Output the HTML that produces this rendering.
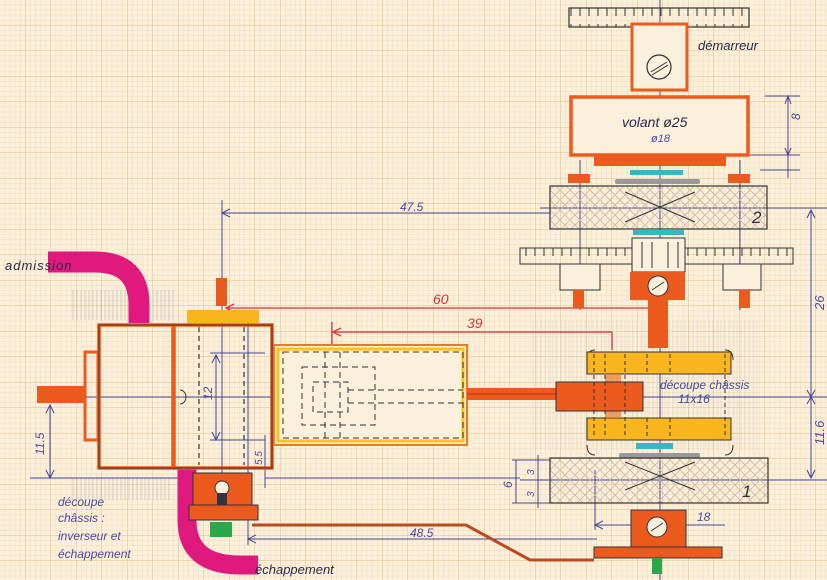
<!DOCTYPE html>
<html><head><meta charset="utf-8"><style>
html,body{margin:0;padding:0;background:#fbf0dc;}
svg{display:block}
text{font-family:"Liberation Sans",sans-serif;font-style:italic}
</style></head><body>
<svg width="827" height="580" viewBox="0 0 827 580" xmlns="http://www.w3.org/2000/svg">
<defs>
<pattern id="minor" width="5.1" height="5.1" patternUnits="userSpaceOnUse"><path d="M5.1 0V5.1H0" fill="none" stroke="#f0d3a6" stroke-width="0.7"/></pattern>
<pattern id="major" width="25.5" height="25.5" patternUnits="userSpaceOnUse"><path d="M25.5 0V25.5H0" fill="none" stroke="#e4bd82" stroke-width="1"/></pattern>
<pattern id="hatch" width="10" height="10" patternUnits="userSpaceOnUse"><path d="M0 0L10 10M10 0L0 10" stroke="#c8b8a8" stroke-width="0.8"/></pattern>
<pattern id="ticks" width="9" height="20" patternUnits="userSpaceOnUse"><path d="M4 4V16" stroke="#333" stroke-width="1"/></pattern>
<pattern id="pencil" width="4" height="6" patternUnits="userSpaceOnUse"><path d="M1 0V6" stroke="#bbb" stroke-width="0.8"/></pattern>
</defs>
<rect width="827" height="580" fill="#fbf0dc"/>
<rect width="827" height="580" fill="url(#minor)"/>
<rect width="827" height="580" fill="url(#major)"/>

<!-- pencil areas -->
<rect x="70" y="290" width="105" height="30" fill="url(#pencil)" opacity="0.8"/>
<rect x="70" y="478" width="100" height="22" fill="url(#pencil)" opacity="0.8"/>
<rect x="530" y="320" width="230" height="130" fill="url(#pencil)" opacity="0.35"/>

<!-- center lines -->
<g stroke="#45459a" stroke-width="1" fill="none">
<line x1="660" y1="0" x2="660" y2="580"/>
<line x1="222" y1="200" x2="222" y2="480"/>
<line x1="248" y1="320" x2="248" y2="545"/>
<line x1="580" y1="160" x2="580" y2="310"/>
<line x1="740" y1="160" x2="740" y2="310"/>
<line x1="595" y1="470" x2="595" y2="530"/>
<line x1="80" y1="397" x2="827" y2="397"/>
<line x1="540" y1="208" x2="827" y2="208"/>
<line x1="520" y1="480" x2="827" y2="480"/>
<line x1="30" y1="478" x2="180" y2="478"/>
<line x1="265" y1="478" x2="520" y2="478"/>
<!-- 47.5 -->
<line x1="222" y1="213" x2="550" y2="213"/>
<path d="M230 209L222 213L230 217"/>
<!-- 48.5 -->
<line x1="248" y1="539" x2="597" y2="539"/>
<path d="M256 535L248 539L256 543"/>
<!-- right dims -->
<line x1="811" y1="210" x2="811" y2="478"/>
<path d="M807 218L811 210L815 218M807 390L811 397L815 390M807 404L811 397L815 404M807 470L811 478L815 470"/>
<line x1="765" y1="96" x2="800" y2="96"/><line x1="750" y1="155" x2="800" y2="155"/><line x1="760" y1="170" x2="800" y2="170"/>
<line x1="788" y1="96" x2="788" y2="178"/>
<path d="M785 104L788 96L791 104M785 148L788 155L791 148"/>
<!-- 11.5 -->
<line x1="50" y1="405" x2="50" y2="478"/>
<path d="M46 413L50 405L54 413M46 470L50 478L54 470"/>
<!-- 12 & 5.5 -->
<line x1="216" y1="355" x2="216" y2="440"/>
<path d="M212 363L216 355L220 363M212 432L216 440L220 432"/>
<line x1="210" y1="353" x2="265" y2="353"/><line x1="210" y1="440" x2="265" y2="440"/>
<line x1="265" y1="435" x2="265" y2="488"/>
<!-- 6 3 3 -->
<line x1="512" y1="460" x2="550" y2="460"/><line x1="512" y1="503" x2="550" y2="503"/>
<line x1="516" y1="460" x2="516" y2="503"/><line x1="538" y1="455" x2="538" y2="508"/>
<!-- 18 -->
<line x1="595" y1="525" x2="725" y2="525"/>
<path d="M603 521L595 525L603 529"/>
<!-- ø18 -->
<line x1="595" y1="145" x2="727" y2="145"/>
<path d="M603 141L595 145L603 149M719 141L727 145L719 149"/>
</g>

<!-- red dims -->
<g stroke="#e0303a" stroke-width="1.3" fill="none">
<line x1="226" y1="308" x2="655" y2="308"/>
<path d="M234 304L226 308L234 312"/>
<line x1="333" y1="332" x2="612" y2="332"/>
<line x1="332" y1="322" x2="332" y2="420"/>
<path d="M341 328L333 332L341 336"/>
<line x1="612" y1="332" x2="612" y2="350"/>
</g>

<!-- magenta pipes -->
<path d="M48 262L95 262Q139 262 139 305L139 323" fill="none" stroke="#e0197e" stroke-width="21"/>
<path d="M187 469L187 520Q187 565 240 565L258 565" fill="none" stroke="#e0197e" stroke-width="19"/>

<!-- main block -->
<rect x="37" y="386" width="47" height="17" fill="#ec5a1e"/>
<rect x="85" y="352" width="13" height="88" fill="none" stroke="#ec5a1e" stroke-width="3"/>
<rect x="99" y="325" width="74" height="143" fill="none" stroke="#ec5a1e" stroke-width="3.5"/>
<rect x="174" y="325" width="98" height="143" fill="none" stroke="#ec5a1e" stroke-width="3.5"/>
<rect x="99" y="325" width="173" height="143" fill="none" stroke="#333" stroke-width="1"/>
<rect x="187" y="310" width="72" height="13" fill="#f8b51e"/>
<rect x="216" y="278" width="11" height="28" fill="#e85a1e"/>
<g stroke="#333" stroke-width="1.2" stroke-dasharray="5 4"><line x1="199" y1="327" x2="199" y2="465"/><line x1="244" y1="327" x2="244" y2="465"/></g>
<path d="M180 390a6 7 0 1 1 0 14" fill="none" stroke="#333"/>

<!-- cylinder -->
<rect x="274" y="345" width="193" height="100" fill="#fbf0dc" stroke="#ec7a1e" stroke-width="2"/>
<rect x="278" y="349" width="185" height="92" fill="none" stroke="#f8c41e" stroke-width="3"/>
<g stroke="#333" stroke-width="1" fill="none" stroke-dasharray="6 4">
<rect x="283" y="352" width="180" height="86"/>
<rect x="302" y="367" width="73" height="58"/>
<rect x="313" y="382" width="35" height="30"/>
<line x1="348" y1="390" x2="463" y2="390"/><line x1="348" y1="403" x2="463" y2="403"/>
<line x1="325" y1="352" x2="325" y2="438"/><line x1="340" y1="352" x2="340" y2="438"/>
</g>
<rect x="467" y="388" width="89" height="12" fill="#ec5a1e"/>
<line x1="467" y1="394" x2="556" y2="394" stroke="#b03010"/>

<!-- exhaust valve -->
<rect x="193" y="473" width="59" height="32" fill="#ec5a1e" stroke="#333"/>
<circle cx="222" cy="488" r="7" fill="#fbf0dc" stroke="#333"/>
<rect x="217" y="493" width="10" height="12" fill="#334"/>
<rect x="189" y="505" width="69" height="15" fill="#ec5a1e" stroke="#333"/>
<rect x="210" y="522" width="22" height="15" fill="#2aa84a"/>
<path d="M252 525L466 525L530 560L594 560" fill="none" stroke="#b84b20" stroke-width="3"/>

<!-- right assembly top -->
<rect x="569" y="8" width="180" height="19" fill="url(#ticks)" stroke="#333" stroke-width="1.2"/>
<rect x="632" y="24" width="55" height="66" fill="#fbf0dc" stroke="#ec5a1e" stroke-width="3"/>
<circle cx="659" cy="67" r="12" fill="#fbf0dc" stroke="#333" stroke-width="1.2"/>
<path d="M651 72L667 62M652 75L668 65" stroke="#333"/>
<rect x="571" y="97" width="177" height="58" fill="#fbf0dc" stroke="#ec5a1e" stroke-width="3.5"/>
<rect x="594" y="156" width="132" height="10" fill="#ec5a1e"/>
<rect x="630" y="170" width="53" height="5" fill="#3ab5c5"/>
<rect x="615" y="179" width="85" height="5" fill="#999" rx="2"/>
<rect x="568" y="174" width="22" height="9" fill="#ec5a1e"/>
<rect x="728" y="174" width="22" height="9" fill="#ec5a1e"/>
<rect x="550" y="186" width="217" height="43" fill="url(#hatch)" stroke="#333" stroke-width="1.2"/>
<path d="M625 192L695 222M625 222L695 192" stroke="#333"/>
<rect x="633" y="230" width="51" height="5" fill="#3ab5c5"/>
<rect x="520" y="248" width="273" height="16" fill="url(#ticks)" stroke="#333"/>
<rect x="632" y="238" width="53" height="34" fill="#fbf0dc" stroke="#333"/>
<g stroke="#333"><line x1="642" y1="242" x2="642" y2="268"/><line x1="652" y1="242" x2="652" y2="268"/><line x1="668" y1="242" x2="668" y2="268"/><line x1="678" y1="242" x2="678" y2="268"/></g>
<rect x="560" y="264" width="40" height="26" fill="#fbf0dc" stroke="#333"/>
<rect x="723" y="264" width="38" height="26" fill="#fbf0dc" stroke="#333"/>
<rect x="630" y="272" width="55" height="28" fill="#ec5a1e"/>
<circle cx="658" cy="286" r="10" fill="#fbf0dc" stroke="#333"/>
<path d="M652 290L664 282" stroke="#333"/>
<rect x="573" y="290" width="11" height="18" fill="#ec5a1e"/>
<rect x="739" y="290" width="11" height="18" fill="#ec5a1e"/>
<rect x="648" y="300" width="20" height="48" fill="#ec5a1e"/>

<!-- yellow bars & crank -->
<path d="M595 350Q587 350 587 360M725 350Q733 350 733 360M595 455Q587 455 587 445M725 455Q733 455 733 445" fill="none" stroke="#333"/>
<rect x="587" y="352" width="144" height="22" fill="#f8b51e" stroke="#333"/>
<rect x="587" y="418" width="144" height="22" fill="#f8b51e" stroke="#333"/>
<rect x="605" y="374" width="16" height="44" fill="#ec7a2e" opacity="0.7"/>
<rect x="556" y="382" width="87" height="29" fill="#ec5a1e" stroke="#333"/>
<g stroke="#333" stroke-dasharray="4 3"><line x1="594" y1="354" x2="594" y2="438"/><line x1="605" y1="354" x2="605" y2="438"/><line x1="625" y1="354" x2="625" y2="438"/><line x1="647" y1="354" x2="647" y2="374"/><line x1="670" y1="354" x2="670" y2="374"/><line x1="647" y1="418" x2="647" y2="438"/><line x1="670" y1="418" x2="670" y2="438"/><line x1="725" y1="354" x2="725" y2="438"/></g>
<rect x="636" y="443" width="37" height="6" fill="#3ab5c5"/>
<rect x="619" y="453" width="81" height="5" fill="#999" rx="2"/>
<rect x="550" y="458" width="218" height="45" fill="url(#hatch)" stroke="#333" stroke-width="1.2"/>
<path d="M625 462L695 490M625 490L695 462" stroke="#333"/>
<rect x="631" y="510" width="55" height="37" fill="#ec5a1e" stroke="#333"/>
<circle cx="657" cy="527" r="10" fill="#fbf0dc" stroke="#333"/>
<path d="M651 531L663 523" stroke="#333"/>
<rect x="594" y="547" width="128" height="11" fill="#ec5a1e" stroke="#333"/>
<rect x="652" y="558" width="10" height="16" fill="#2aa84a"/>

<!-- labels -->
<g fill="#2a2a4a" font-size="13">
<text x="698" y="50">démarreur</text>
<text x="622" y="127" font-size="14">volant ø25</text>
<text x="5" y="270" letter-spacing="1">admission</text>
<text x="255" y="574">échappement</text>
</g>
<g fill="#4a4aa0" font-size="12">
<text x="400" y="211">47.5</text>
<text x="410" y="537">48.5</text>
<text x="651" y="142" font-size="11">ø18</text>
<text x="660" y="389">découpe châssis</text>
<text x="678" y="403">11x16</text>
<text x="58" y="506">découpe</text>
<text x="58" y="522">châssis :</text>
<text x="58" y="540">inverseur et</text>
<text x="58" y="558">échappement</text>
<text x="697" y="521">18</text>
<text x="800" y="120" transform="rotate(-90 800 120)">8</text>
<text transform="translate(824 310) rotate(-90)" font-size="13">26</text>
<text transform="translate(824 445) rotate(-90)" font-size="13">11.6</text>
<text transform="translate(44 455) rotate(-90)">11.5</text>
<text transform="translate(212 400) rotate(-90)">12</text>
<text transform="translate(262 465) rotate(-90)" font-size="10">5.5</text>
<text transform="translate(512 488) rotate(-90)">6</text>
<text transform="translate(534 475) rotate(-90)" font-size="10">3</text>
<text transform="translate(534 497) rotate(-90)" font-size="10">3</text>
</g>
<g fill="#e0303a" font-size="14"><text x="433" y="304">60</text><text x="467" y="328">39</text></g>
<g fill="#333" font-size="17"><text x="752" y="223">2</text><text x="742" y="497">1</text></g>
</svg>
</body></html>
